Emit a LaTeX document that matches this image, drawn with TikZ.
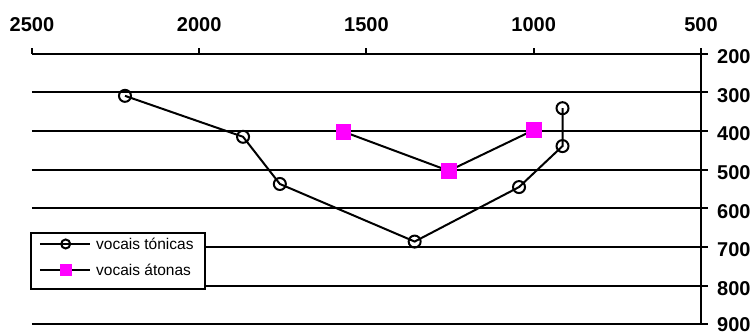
\documentclass[tikz,border=0pt]{standalone}
\usepackage{fontspec}
\setmainfont{Liberation Sans}
\definecolor{rosa}{RGB}{255,0,255}
\begin{document}
\begin{tikzpicture}[x=-0.3345pt,y=-0.38657pt,
    grade/.style={line width=2pt},
    serie/.style={line width=2pt},
    tonica/.style={circle,draw,line width=2pt,minimum size=12pt,inner sep=0pt},
    atona/.style={rectangle,fill=rosa,minimum size=15.5pt,inner sep=0pt},
    rotulo/.style={font=\fontsize{20}{24}\selectfont\bfseries,inner sep=0pt},
    legtexto/.style={font=\fontsize{15.5}{18}\selectfont,inner sep=0pt,anchor=west}]
  \useasboundingbox (2595.67,61.08) rectangle (338.57,930.27);
  % eixos e grade
  \draw[grade] (500,200) -- (500,900);
  \foreach \f in {2500,2000,...,500} {
    \draw[grade] (\f,200) -- ++(0pt,6pt);
    \node[rotulo] (x\f) at ([yshift=29pt]\f,200) {\f};
  }
  \foreach \y in {200,300,...,800} {
    \draw[grade] (2500,\y) -- (500,\y) -- ++(7pt,0pt);
    \node[rotulo,anchor=west] (y\y) at ([xshift=16pt,yshift=-3pt]500,\y) {\y};
  }
  \draw[grade] (2500,900) -- (500,900) -- ++(7pt,0pt);
  \node[rotulo,anchor=west] (y900) at ([xshift=16pt]500,900) {900};
  % vogais tonicas
  \coordinate (t1) at (2222,309);
  \coordinate (t2) at (1869,415);
  \coordinate (t3) at (1759,537);
  \coordinate (t4) at (1356,686);
  \coordinate (t5) at (1044,545);
  \coordinate (t6) at (914,439);
  \coordinate (t7) at (914,341);
  \draw[serie] (t1) -- (t2) -- (t3) -- (t4) -- (t5) -- (t6) -- (t7);
  \foreach \n in {1,...,7}
    \node[tonica] (mt\n) at (t\n) {};
  % vogais atonas
  \coordinate (a1) at (1568,402);
  \coordinate (a2) at (1254,503);
  \coordinate (a3) at (999,397);
  \draw[serie] (a1) -- (a2) -- (a3);
  \foreach \n in {1,2,3}
    \node[atona] (ma\n) at (a\n) {};
  % legenda
  \begin{scope}[shift={(2506,661.2)},x=1pt,y=-1pt]
    \node[draw,fill=white,line width=2pt,minimum width=174pt,minimum height=56pt,
      inner sep=0pt,anchor=north west] (legenda) at (0,0) {};
    \coordinate (l1a) at (10,12);
    \coordinate (l1b) at (60,12);
    \coordinate (l2a) at (10,38);
    \coordinate (l2b) at (60,38);
    \draw[serie] (l1a) -- (l1b);
    \draw[serie] (l2a) -- (l2b);
    \node[tonica,minimum size=9pt] (lt) at (35.7,12) {};
    \node[atona,minimum size=12pt] (la) at (36,38) {};
    \node[legtexto] (ltt) at (66,12) {vocais tónicas};
    \node[legtexto] (lat) at (66,38) {vocais átonas};
  \end{scope}
\end{tikzpicture}
\end{document}
